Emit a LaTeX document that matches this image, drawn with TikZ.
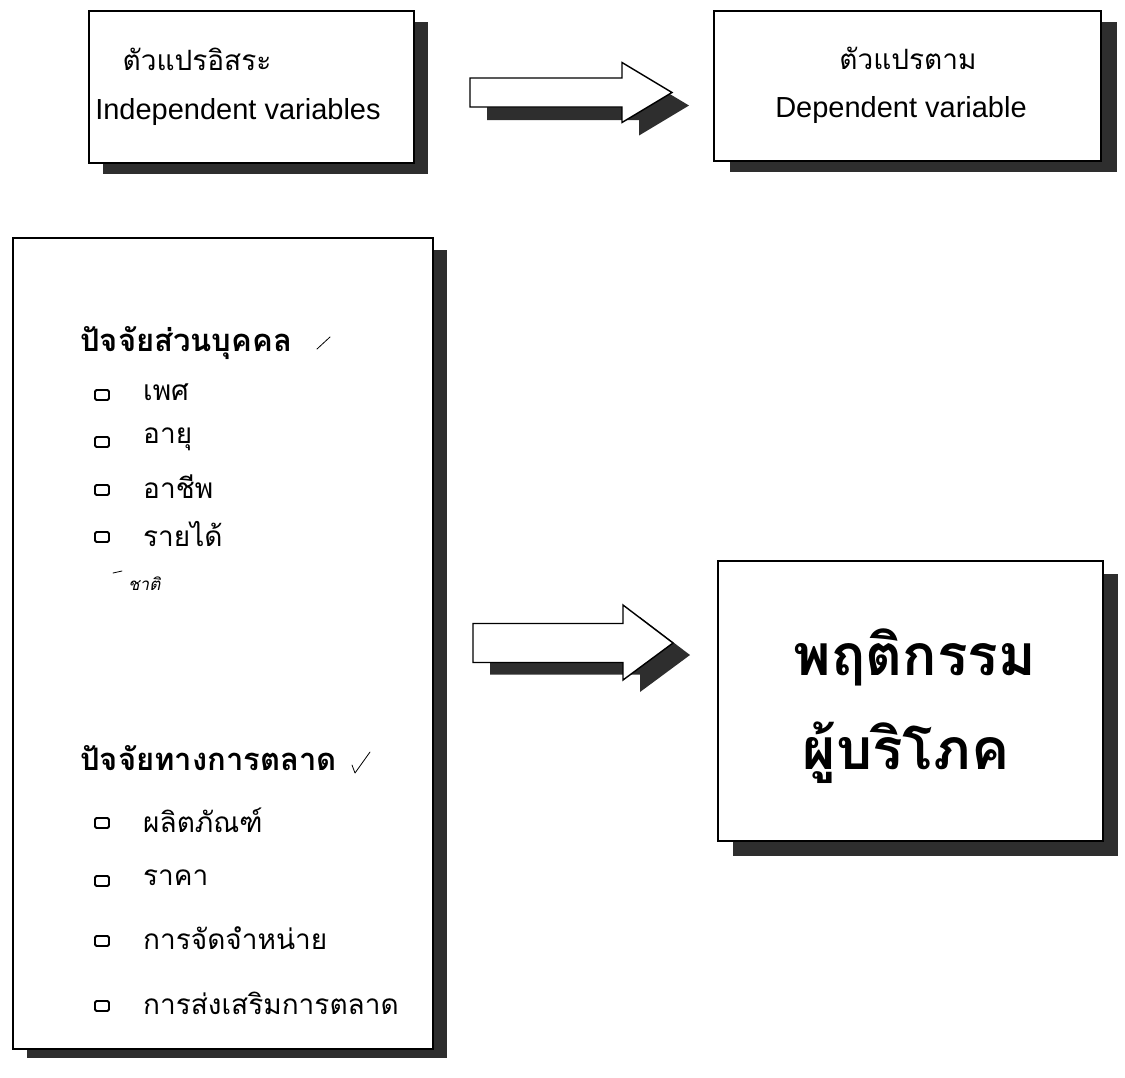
\documentclass[tikz,border=0pt]{standalone}
\usepackage{fontspec}
\setmainfont{Liberation Sans}
\newfontfamily\thaifont[Script=Thai]{Loma}
\begin{document}
\begin{tikzpicture}[x=1pt,y=-1pt,
  boxstyle/.style={draw=black,line width=1.8pt,fill=white,inner sep=0pt,anchor=north west},
  shadowfill/.style={fill=black!82},
  arrowbody/.style={draw=black,line width=1.4pt,fill=white,line join=miter},
  thai/.style={font=\thaifont\fontsize{28}{32}\selectfont,inner sep=0pt},
  eng/.style={font=\fontsize{29}{33}\selectfont,inner sep=0pt},
  head/.style={font=\thaifont\bfseries\fontsize{31}{36}\selectfont,inner sep=0pt,anchor=west},
  item/.style={font=\thaifont\fontsize{28}{32}\selectfont,inner sep=0pt,anchor=west},
  big/.style={font=\thaifont\bfseries\fontsize{57}{66}\selectfont,inner sep=0pt},
  bulletbox/.style={draw=black,line width=1.8pt,rounded corners=1.5pt,minimum width=14pt,minimum height=10pt,inner sep=0pt},
  tick/.style={draw=black,line width=0.8pt,line cap=round,line join=round}
]
\useasboundingbox (0,0) rectangle (1125,1077);

% shadows
\fill[shadowfill] (103,22) rectangle (428,174);
\fill[shadowfill] (730,22) rectangle (1117,172);
\fill[shadowfill] (27,250) rectangle (447,1058);
\fill[shadowfill] (733,574) rectangle (1118,856);

% boxes
\node[boxstyle,minimum width=325pt,minimum height=152pt] (indep) at (88,10) {};
\node[boxstyle,minimum width=387pt,minimum height=150pt] (dep) at (713,10) {};
\node[boxstyle,minimum width=420pt,minimum height=811pt] (factors) at (12,237) {};
\node[boxstyle,minimum width=385pt,minimum height=280pt] (behav) at (717,560) {};

% top box texts
\node[thai] (t1) at (197,59) {ตัวแปรอิสระ};
\node[eng] (e1) at (238,112) {Independent variables};
\node[thai] (t2) at (908,58) {ตัวแปรตาม};
\node[eng] (e2) at (901,110) {Dependent variable};

% arrows
\coordinate (a1) at (470,92.5);
\coordinate (a2) at (473,643);
\fill[shadowfill,shift={(a1)},xshift=17pt,yshift=-13pt] (0,-14.5) -- (152,-14.5) -- (152,-30) -- (202,0) -- (152,30) -- (152,14.5) -- (0,14.5) -- cycle;
\draw[arrowbody,shift={(a1)}] (0,-14.5) -- (152,-14.5) -- (152,-30) -- (202,0) -- (152,30) -- (152,14.5) -- (0,14.5) -- cycle;
\fill[shadowfill,shift={(a2)},xshift=17pt,yshift=-12pt] (0,-19.5) -- (150,-19.5) -- (150,-38) -- (200,0) -- (150,37) -- (150,19.5) -- (0,19.5) -- cycle;
\draw[arrowbody,shift={(a2)}] (0,-19.5) -- (150,-19.5) -- (150,-38) -- (200,0) -- (150,37) -- (150,19.5) -- (0,19.5) -- cycle;

% left box contents
\node[head] (h1) at (80,343) {ปัจจัยส่วนบุคคล};
\draw[tick] (317,349) -- (330,337);
\node[bulletbox] (b1) at (102,395) {};
\node[item] (i1) at (143,392) {เพศ};
\node[bulletbox] (b2) at (102,442) {};
\node[item] (i2) at (143,439) {อายุ};
\node[bulletbox] (b3) at (102,490) {};
\node[item] (i3) at (143,487) {อาชีพ};
\node[bulletbox] (b4) at (102,537) {};
\node[item] (i4) at (143,534) {รายได้};
\draw[tick] (113,573) -- (122,571);
\node[font=\thaifont\itshape\fontsize{17}{19}\selectfont,inner sep=0pt,anchor=west] (hw) at (128,584) {ชาติ};

\node[head] (h2) at (80,758) {ปัจจัยทางการตลาด};
\draw[tick] (352,765) -- (355,773) -- (370,752);
\node[bulletbox] (b5) at (102,823) {};
\node[item] (i5) at (143,820) {ผลิตภัณฑ์};
\node[bulletbox] (b6) at (102,881) {};
\node[item] (i6) at (143,878) {ราคา};
\node[bulletbox] (b7) at (102,941) {};
\node[item] (i7) at (143,938) {การจัดจำหน่าย};
\node[bulletbox] (b8) at (102,1006) {};
\node[item] (i8) at (143,1003) {การส่งเสริมการตลาด};

% big text
\node[big] (p1) at (915,657) {พฤติกรรม};
\node[big] (p2) at (906,753) {ผู้บริโภค};
\end{tikzpicture}
\end{document}
